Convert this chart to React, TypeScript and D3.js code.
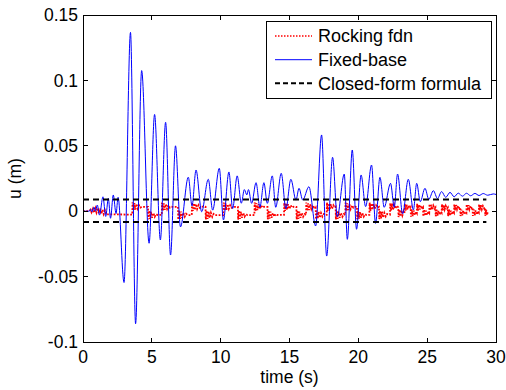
import React from 'react';
import * as d3 from 'd3';

// ---------- data ----------
const xTicks = [0, 5, 10, 15, 20, 25, 30];
const xTickLabels = ['0', '5', '10', '15', '20', '25', '30'];
const yTicks = [-0.1, -0.05, 0, 0.05, 0.1, 0.15];
const yTickLabels = ['-0.1', '-0.05', '0', '0.05', '0.1', '0.15'];

// Fixed-base response (t [s], u [m]) – peaks and troughs
const fixedBase: [number, number][] = [
  [0, 0], [0.45, 0], [0.55, 0.0015], [0.65, -0.0005], [0.8, 0.003], [0.9, 0.0], [1.04, 0.0047],
  [1.2, -0.003], [1.45, 0.011], [1.65, -0.004], [1.84, 0.0098], [2.0, -0.0054], [2.2, 0.0124],
  [2.4, -0.0018], [2.55, 0.0106], [2.98, -0.0545], [3.45, 0.1367], [3.82, -0.086], [4.26, 0.1075],
  [4.8, -0.0245], [5.2, 0.074], [5.62, -0.022], [6.0, 0.068], [6.36, -0.0335], [6.72, 0.05],
  [7.08, -0.012], [7.65, 0.026], [7.92, 0.004], [8.21, 0.0315], [8.62, -0.0004], [9.1, 0.0244],
  [9.42, 0.0008], [9.9, 0.0328], [10.2, -0.0067], [10.6, 0.03], [10.87, 0.002], [11.2, 0.027],
  [11.5, 0.0061], [11.72, 0.0165], [11.9, 0.0125], [12.02, 0.0165], [12.25, 0.006], [12.57, 0.0218],
  [12.85, 0.003], [13.14, 0.0218], [13.39, 0.006], [13.75, 0.027], [14.0, 0.003], [14.4, 0.029],
  [14.74, 0.002], [15.1, 0.0244], [15.47, 0.0085], [15.69, 0.0175], [15.96, 0.0086], [16.41, 0.0187],
  [16.9, -0.0113], [17.33, 0.0583], [17.7, -0.0343], [18.13, 0.0412], [18.47, -0.0042], [18.98, 0.0284],
  [19.2, -0.0215], [19.56, 0.0468], [19.87, -0.0138], [20.2, 0.0277], [20.53, 0.0035], [20.96, 0.0353],
  [21.25, -0.0093], [21.57, 0.0259], [21.88, 0.003], [22.34, 0.0213], [22.61, 0.003], [22.85, 0.0284],
  [23.22, -0.002], [23.63, 0.0244], [24.0, 0.001], [24.24, 0.0213], [24.5, 0.0073], [24.84, 0.0175],
  [25.12, 0.0091], [25.45, 0.0157], [25.75, 0.0097], [26.05, 0.015], [26.35, 0.0106], [26.66, 0.0144],
  [26.96, 0.011], [27.26, 0.0138], [27.56, 0.0115], [27.86, 0.0137], [28.16, 0.0118], [28.47, 0.0136],
  [28.77, 0.012], [29.07, 0.0135], [29.4, 0.0122], [29.8, 0.0132], [30, 0.0128],
];

// Rocking foundation response (t [s], u [m])
const rocking: [number, number][] = [
  [0, 0], [0.45, 0], [0.55, 0.0012], [0.62, -0.0008], [0.72, 0.0018], [0.8, -0.0012], [0.9, 0.0022],
  [0.98, -0.001], [1.08, 0.0025], [1.16, -0.0016], [1.25, 0.002], [1.33, -0.002], [1.42, 0.0012],
  [1.5, -0.0022], [1.6, 0.0005], [1.7, -0.0026], [1.8, -0.0024], [3.58, -0.0026],
  [3.6, 0.0068], [3.66, 0.0006], [3.73, 0.0062], [3.8, 0.0012], [3.88, 0.0055], [3.97, 0.002], [4.07, 0.0045], [4.17, 0.0028], [4.28, 0.0034], [4.72, 0.0033],
  [4.74, -0.0062], [4.8, 0.0004], [4.87, -0.0058], [4.94, -0.0004], [5.02, -0.005], [5.11, -0.0014], [5.21, -0.0042], [5.31, -0.0022], [5.42, -0.0029], [5.72, -0.0028],
  [5.74, 0.0066], [5.8, 0.0004], [5.87, 0.006], [5.94, 0.001], [6.02, 0.0054], [6.11, 0.0018], [6.21, 0.0046], [6.31, 0.0027], [6.42, 0.0034], [6.9, 0.0033],
  [6.92, -0.0064], [6.98, 0.0005], [7.05, -0.0058], [7.12, -0.0003], [7.2, -0.0052], [7.29, -0.0012], [7.39, -0.0042], [7.49, -0.002], [7.6, -0.003], [7.9, -0.0029],
  [7.92, 0.0067], [7.98, 0.0002], [8.05, 0.0061], [8.12, 0.0009], [8.2, 0.0055], [8.29, 0.0017], [8.39, 0.0046], [8.49, 0.0026], [8.6, 0.0035], [8.9, 0.0034],
  [8.92, -0.0063], [8.98, 0.0006], [9.05, -0.0059], [9.12, -0.0002], [9.2, -0.0051], [9.29, -0.0013], [9.39, -0.0043], [9.49, -0.0021], [9.6, -0.003], [10.2, -0.0029],
  [10.22, 0.0066], [10.28, 0.0003], [10.35, 0.006], [10.42, 0.001], [10.5, 0.0053], [10.59, 0.0018], [10.69, 0.0045], [10.79, 0.0027], [10.9, 0.0034], [11.25, 0.0033],
  [11.27, -0.0064], [11.33, 0.0005], [11.4, -0.0058], [11.47, -0.0003], [11.55, -0.005], [11.64, -0.0013], [11.74, -0.0041], [11.84, -0.0022], [11.95, -0.003], [12.45, -0.0029],
  [12.47, 0.0067], [12.53, 0.0002], [12.6, 0.0061], [12.67, 0.0009], [12.75, 0.0054], [12.84, 0.0017], [12.94, 0.0045], [13.04, 0.0027], [13.15, 0.0034], [13.4, 0.0033],
  [13.42, -0.0062], [13.48, 0.0004], [13.55, -0.0057], [13.62, -0.0004], [13.7, -0.005], [13.79, -0.0014], [13.89, -0.0041], [13.99, -0.0022], [14.1, -0.0029], [14.6, -0.0028],
  [14.62, 0.0065], [14.68, 0.0003], [14.75, 0.006], [14.82, 0.001], [14.9, 0.0053], [14.99, 0.0018], [15.09, 0.0045], [15.19, 0.0027], [15.3, 0.0034], [15.5, 0.0033],
  [15.52, -0.0063], [15.58, 0.0005], [15.65, -0.0058], [15.72, -0.0003], [15.8, -0.0051], [15.89, -0.0013], [15.99, -0.0042], [16.09, -0.0022], [16.2, -0.0029],
  [16.22, 0.0066], [16.28, 0.0002], [16.35, 0.006], [16.42, 0.0009], [16.5, 0.0053], [16.59, 0.0017], [16.69, 0.0045], [16.79, 0.0027], [16.9, 0.0033],
  [16.92, -0.0062], [16.98, 0.0004], [17.05, -0.0057], [17.12, -0.0004], [17.2, -0.005], [17.29, -0.0014], [17.39, -0.0041], [17.49, -0.0022], [17.6, -0.0029], [17.7, -0.0028],
  [17.72, 0.0066], [17.78, 0.0003], [17.85, 0.006], [17.92, 0.001], [18.0, 0.0053], [18.09, 0.0018], [18.19, 0.0045], [18.29, 0.0028], [18.35, 0.0033],
  [18.37, -0.0063], [18.43, 0.0005], [18.5, -0.0058], [18.57, -0.0003], [18.65, -0.0051], [18.74, -0.0013], [18.84, -0.0042], [18.94, -0.0022], [19.05, -0.0029],
  [19.07, 0.0066], [19.13, 0.0002], [19.2, 0.006], [19.27, 0.0009], [19.35, 0.0053], [19.44, 0.0017], [19.54, 0.0045], [19.64, 0.0027], [19.75, 0.0034], [19.9, 0.0033],
  [19.92, -0.0062], [19.98, 0.0004], [20.05, -0.0057], [20.12, -0.0004], [20.2, -0.005], [20.29, -0.0014], [20.39, -0.0041], [20.49, -0.0022], [20.6, -0.0029], [20.8, -0.0028],
  [20.82, 0.0065], [20.88, 0.0003], [20.95, 0.006], [21.02, 0.001], [21.1, 0.0053], [21.19, 0.0018], [21.29, 0.0045], [21.39, 0.0027], [21.5, 0.0033],
  [21.52, -0.006], [21.58, 0.0004], [21.65, -0.0055], [21.72, -0.0004], [21.8, -0.0048], [21.89, -0.0013], [21.99, -0.004], [22.09, -0.0022], [22.3, -0.0026],
  [22.32, 0.0062], [22.38, 0.0004], [22.45, 0.0057], [22.52, 0.0011], [22.6, 0.005], [22.69, 0.0019], [22.79, 0.0042], [22.9, 0.003],
  [22.92, -0.0045], [22.98, 0.0012], [23.05, -0.004], [23.12, 0.0006], [23.2, -0.0032], [23.29, -0.0002], [23.35, -0.0015],
  [23.37, 0.0058], [23.43, 0.0004], [23.5, 0.0052], [23.57, 0.0012], [23.65, 0.0045], [23.74, 0.002], [23.8, 0.003],
  [23.82, -0.0042], [23.88, 0.0013], [23.95, -0.0037], [24.02, 0.0005], [24.1, -0.003], [24.19, -0.0003], [24.25, -0.0014],
  [24.27, 0.0056], [24.33, 0.0005], [24.4, 0.005], [24.47, 0.0013], [24.55, 0.0043], [24.64, 0.002], [24.7, 0.0029],
  [24.72, -0.004], [24.78, 0.0012], [24.85, -0.0035], [24.92, 0.0004], [25.0, -0.0028], [25.09, -0.0004], [25.15, -0.0013],
  [25.17, 0.0055], [25.23, 0.0006], [25.3, 0.0049], [25.37, 0.0013], [25.45, 0.0042], [25.54, 0.0021], [25.6, 0.0029],
  [25.62, -0.0039], [25.68, 0.0012], [25.75, -0.0034], [25.82, 0.0005], [25.9, -0.0027], [25.99, -0.0003], [26.05, -0.0012],
  [26.07, 0.0054], [26.13, 0.0005], [26.2, 0.0048], [26.27, 0.0014], [26.35, 0.0041], [26.44, 0.0021], [26.5, 0.0028],
  [26.52, -0.0038], [26.58, 0.0013], [26.65, -0.0033], [26.72, 0.0004], [26.8, -0.0026], [26.89, -0.0003], [26.95, -0.0012],
  [26.97, 0.0053], [27.03, 0.0006], [27.1, 0.0047], [27.17, 0.0014], [27.25, 0.004], [27.34, 0.0021], [27.4, 0.0028],
  [27.42, -0.0037], [27.48, 0.0012], [27.55, -0.0032], [27.62, 0.0005], [27.7, -0.0025], [27.79, -0.0002], [27.85, -0.0011],
  [27.87, 0.0052], [27.93, 0.0006], [28.0, 0.0046], [28.07, 0.0014], [28.15, 0.004], [28.24, 0.0022], [28.3, 0.0028],
  [28.32, -0.0036], [28.38, 0.0013], [28.45, -0.0031], [28.52, 0.0005], [28.6, -0.0025], [28.69, -0.0002], [28.75, -0.0011],
  [28.77, 0.0052], [28.83, 0.0006], [28.9, 0.0046], [28.97, 0.0014], [29.05, 0.0039], [29.14, 0.0021], [29.2, 0.0028],
  [29.22, -0.0035], [29.28, 0.0012], [29.35, -0.003], [29.4, -0.0005],
];

// Closed-form formula bounds
const closedFormLevels = [0.009, -0.0082];
const closedFormTimes = [0, 29.3];

const legendLabels = ['Rocking fdn', 'Fixed-base', 'Closed-form formula'];

// ---------- layout ----------
const W = 506;
const H = 390;
const PL = 83, PR = 496, PT = 15, PB = 342;
const FONT = '"Liberation Sans", Arial, Helvetica, sans-serif';
const FS = 17.5;

export default function App() {
  const x = d3.scaleLinear().domain([0, 30]).range([PL, PR]);
  const y = d3.scaleLinear().domain([-0.1, 0.15]).range([PB, PT]);

  const smooth = d3.line<[number, number]>().x(d => x(d[0])).y(d => y(d[1])).curve(d3.curveMonotoneX);
  const straight = d3.line<[number, number]>().x(d => x(d[0])).y(d => y(d[1]));

  const tickLen = 4.5;

  const legendStyles = [
    { stroke: '#ff0000', width: 1.5, dash: '1.5 1.5' },
    { stroke: '#0000ff', width: 1, dash: undefined as string | undefined },
    { stroke: '#000000', width: 2, dash: '5 3' },
  ];
  const lgX = 266.5, lgY = 21.5, lgW = 225, lgH = 77;
  const rowY = [36, 59.7, 83.3];

  return (
    <svg width={W} height={H} style={{ position: 'absolute', left: 0, top: 0, background: '#fff' }}
      fontFamily={FONT}>
      <defs>
        <clipPath id="plotClip">
          <rect x={PL} y={PT} width={PR - PL} height={PB - PT} />
        </clipPath>
      </defs>
      <rect x={0} y={0} width={W} height={H} fill="#fff" />

      <g clipPath="url(#plotClip)">
        <path d={straight(rocking) || ''} fill="none" stroke="#ff0000" strokeWidth={1.8} strokeDasharray="1.8 1.5" />
        <path d={smooth(fixedBase) || ''} fill="none" stroke="#0000ff" strokeWidth={1} />
        {closedFormLevels.map((lv, i) => (
          <path key={i}
            d={straight(closedFormTimes.map(t => [t, lv] as [number, number])) || ''}
            fill="none" stroke="#000" strokeWidth={2} strokeDasharray="6 4" />
        ))}
      </g>

      {/* axes box */}
      <rect x={PL} y={PT} width={PR - PL} height={PB - PT} fill="none" stroke="#000" strokeWidth={1} shapeRendering="crispEdges" />

      {/* x ticks */}
      {xTicks.map((t, i) => (
        <g key={'x' + i}>
          <line x1={x(t)} x2={x(t)} y1={PB} y2={PB - tickLen} stroke="#000" shapeRendering="crispEdges" />
          <line x1={x(t)} x2={x(t)} y1={PT} y2={PT + tickLen} stroke="#000" shapeRendering="crispEdges" />
          <text x={x(t)} y={PB + 20.5} fontSize={FS} textAnchor="middle">{xTickLabels[i]}</text>
        </g>
      ))}
      {/* y ticks */}
      {yTicks.map((v, i) => (
        <g key={'y' + i}>
          <line x1={PL} x2={PL + tickLen} y1={y(v)} y2={y(v)} stroke="#000" shapeRendering="crispEdges" />
          <line x1={PR} x2={PR - tickLen} y1={y(v)} y2={y(v)} stroke="#000" shapeRendering="crispEdges" />
          <text x={PL - 5} y={y(v)} dy="0.35em" fontSize={FS} textAnchor="end">{yTickLabels[i]}</text>
        </g>
      ))}

      {/* axis labels */}
      <text x={(PL + PR) / 2} y={382.5} fontSize={FS} textAnchor="middle">time (s)</text>
      <text transform={`translate(21, ${(PT + PB) / 2}) rotate(-90)`} fontSize={FS} textAnchor="middle">u (m)</text>

      {/* legend */}
      <rect x={lgX} y={lgY} width={lgW} height={lgH} fill="#fff" stroke="#000" strokeWidth={1} shapeRendering="crispEdges" />
      {legendLabels.map((lab, i) => (
        <g key={'l' + i}>
          <line x1={275} x2={312} y1={rowY[i]} y2={rowY[i]} stroke={legendStyles[i].stroke}
            strokeWidth={legendStyles[i].width} strokeDasharray={legendStyles[i].dash} />
          <text x={318} y={rowY[i]} dy="0.35em" fontSize={18}>{lab}</text>
        </g>
      ))}
    </svg>
  );
}
